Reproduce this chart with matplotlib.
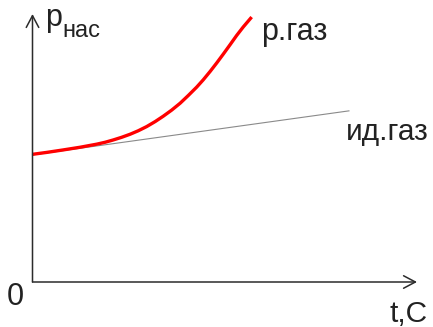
import matplotlib.pyplot as plt

plt.rcParams['font.family'] = ['Liberation Sans', 'DejaVu Sans']

# saturated vapour ("р.газ") pressure vs temperature, arbitrary units
t_real = [0, 3.7, 8.0, 12.4, 16.7, 18.9, 21.0, 23.2, 25.4, 27.5, 29.7, 31.9, 34.0,
          36.2, 38.4, 40.5, 42.7, 44.4, 46.2, 47.9, 49.6, 51.4, 53.1, 54.8, 57.0]
p_real = [33.35, 33.85, 34.5, 35.2, 36.0, 36.5, 37.1, 37.8, 38.6, 39.5, 40.6, 41.9, 43.3,
          44.9, 46.7, 48.7, 50.9, 52.8, 55.0, 57.2, 59.5, 62.0, 64.4, 66.6, 69.2]

# ideal gas ("ид.газ") straight line
t_ideal = [0, 82.3]
p_ideal = [33.2, 44.7]

W, H = 433, 327
fig = plt.figure(figsize=(W / 100, H / 100), dpi=100)
ax = fig.add_axes([32.5 / W, 45 / H, (417 - 32.5) / W, (282 - 14) / H])
ax.set_xlim(0, 100)
ax.set_ylim(0, 70)
ax.axis('off')

axis_col = '#2b2b2b'
arrow = dict(arrowstyle='->,head_length=0.85,head_width=0.45', color=axis_col,
             lw=1.1, mutation_scale=10, shrinkA=0, shrinkB=0)
ax.annotate('', xy=(1, 0), xytext=(0, 0), xycoords='axes fraction', arrowprops=arrow)
ax.annotate('', xy=(0, 1), xytext=(0, 0), xycoords='axes fraction', arrowprops=arrow)

ax.plot(t_ideal, p_ideal, color='#8a8a8a', lw=0.8, clip_on=False)
ax.plot(t_real, p_real, color='#ff0000', lw=2.4, clip_on=False,
        solid_capstyle='butt', solid_joinstyle='round')

txt = '#222222'
def put(x, y, s, size, **kw):
    fig.text(x / W, 1 - y / H, s, fontsize=size, color=txt, **kw)

put(45, 26, 'p', 22, va='baseline')
put(62, 37, 'нас', 17, va='baseline')
put(261, 40, 'р.газ', 22, va='baseline')
put(346, 140, 'ид.газ', 21.5, va='baseline')
put(7, 305, '0', 22, va='baseline')
put(390, 322, 't,C', 21.5, va='baseline')

fig.savefig('out.png', dpi=100)
